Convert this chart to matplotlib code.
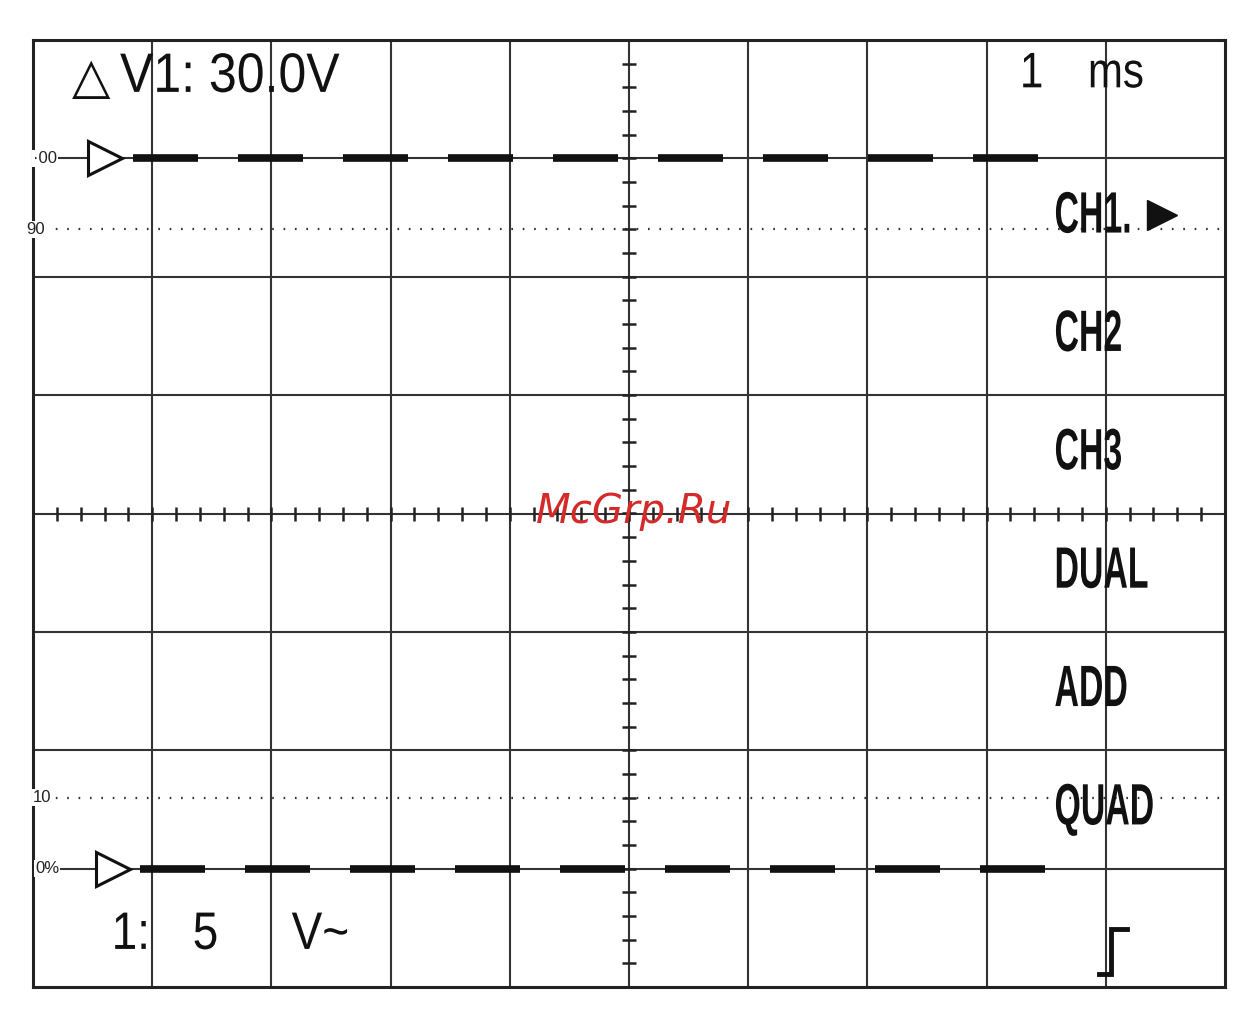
import numpy as np
import matplotlib
matplotlib.use("Agg")
import matplotlib.pyplot as plt
import matplotlib.transforms as mtransforms
from matplotlib import patheffects

# screen layout: 10 x 8 divisions, levels given in percent of the 0..100 % band
n_cols, n_rows = 10, 8
trace_pct = [100, 0]                 # two dashed trace levels
trace_x0 = [0.84, 0.90]              # trace start (div)
trace_x1 = [8.45, 8.51]              # trace end (div)
marker_x = [0.60, 0.67]              # open channel markers
dotted_pct = [90, 10]
left_labels = ["·00", "90", "10", "0%"]
left_label_pct = [100, 90, 10, 0]
left_label_x = [0.20, 0.10, 0.15, 0.22]
menu_items = ["CH1.", "CH2", "CH3", "DUAL", "ADD", "QUAD"]
menu_y = [2.5, 1.5, 0.5, -0.5, -1.5, -2.5]
header_left = "V1: 30.0V"
header_time = ["1", "ms"]
footer = ["1:", "5", "V~"]
footer_x = [0.66, 1.34, 2.17]


def pct_to_div(p):
    return -3 + np.asarray(p, dtype=float) * 6 / 100


class Squeeze(patheffects.AbstractPathEffect):
    """draw text narrower (condensed screen font), anchored at its left edge"""

    def __init__(self, sx):
        super().__init__()
        self.sx = sx

    def draw_path(self, renderer, gc, tpath, affine, rgbFace=None):
        x0 = affine.transform((0, 0))[0]
        squeeze = mtransforms.Affine2D().translate(-x0, 0).scale(self.sx, 1).translate(x0, 0)
        renderer.draw_path(gc, tpath, affine + squeeze, rgbFace)


plt.rcParams['lines.scale_dashes'] = False
plt.rcParams['font.family'] = ['Liberation Sans', 'DejaVu Sans']

fig = plt.figure(figsize=(12.58, 10.19), dpi=100)
ax = fig.add_axes([33 / 1258, 1 - 987 / 1019, 1192 / 1258, 947 / 1019])
ax.set_xlim(0, n_cols)
ax.set_ylim(-n_rows / 2, n_rows / 2)
ax.set_xticks([])
ax.set_yticks([])
for s in ax.spines.values():
    s.set_linewidth(2.2)
    s.set_color('#222222')

# graticule
for i in range(1, n_cols):
    ax.axvline(i, color='#333333', lw=1.5, zorder=1)
for j in range(1, n_rows):
    ax.axhline(j - n_rows / 2, color='#333333', lw=1.5, zorder=1)

# minor ticks on centre lines (5 per division)
tx = np.arange(0, n_cols + 0.01, 0.2)
ty = np.arange(-n_rows / 2, n_rows / 2 + 0.01, 0.2)
ax.plot(tx, np.zeros_like(tx), ls='none', marker='|', ms=10, mew=1.8,
        color='#222222', zorder=2, clip_on=False)
ax.plot(np.full_like(ty, n_cols / 2), ty, ls='none', marker='_', ms=10, mew=1.8,
        color='#222222', zorder=2, clip_on=False)

# dotted 10 % / 90 % lines
for p in dotted_pct:
    ax.axhline(pct_to_div(p), color='#333333', lw=1.6,
               ls=(0, (1.2, 7)), zorder=1)

# dashed traces and open markers
for p, x0, x1, mx in zip(trace_pct, trace_x0, trace_x1, marker_x):
    y = pct_to_div(p)
    ax.plot([x0, x1], [y, y], color='#111111', lw=5.5,
            ls=(0, (46.8, 28.8)), dash_capstyle='butt', zorder=3)
    ax.plot([mx], [y], marker='>', ms=24, mfc='white', mec='#111111',
            mew=2.2, zorder=4)

# left-hand level labels
for lab, p, x in zip(left_labels, left_label_pct, left_label_x):
    ax.text(x, pct_to_div(p), lab, ha='right', va='center', fontsize=12,
            color='#222222', clip_on=False, zorder=5,
            bbox=dict(fc='white', ec='none', pad=0.5))

# header and footer read-outs
ax.text(0.33, 3.67, "△", ha='left', va='center', fontsize=36,
        family='DejaVu Sans', color='#111111')
ax.text(0.73, 3.68, header_left, ha='left', va='center', fontsize=40,
        color='#111111', path_effects=[Squeeze(0.9)])
ax.text(8.28, 3.71, header_time[0], ha='left', va='center', fontsize=36,
        color='#111111', path_effects=[Squeeze(0.84)])
ax.text(8.85, 3.71, header_time[1], ha='left', va='center', fontsize=36,
        color='#111111', path_effects=[Squeeze(0.84)])
for t, x in zip(footer, footer_x):
    ax.text(x, -3.56, t, ha='left', va='center', fontsize=38,
            color='#111111', path_effects=[Squeeze(0.87)])

# menu on the right (tall condensed lettering)
for t, y in zip(menu_items, menu_y):
    ax.text(8.57, y, t, ha='left', va='center', fontsize=42,
            fontweight='bold', color='#111111', path_effects=[Squeeze(0.58)])
ax.plot([9.47], [menu_y[0] + 0.02], marker='>', ms=22, color='#111111',
        zorder=4)

# trigger edge symbol
ax.plot([8.94, 9.04, 9.04, 9.18], [-3.89, -3.89, -3.51, -3.51],
        color='#111111', lw=3.5, solid_joinstyle='miter', zorder=4)

# watermark
ax.text(5.04, 0.02, "McGrp.Ru", ha='center', va='center', fontsize=29,
        family='DejaVu Sans', style='italic', color='#d42a2a', zorder=6)

fig.savefig("out.png", dpi=100, facecolor='white')
